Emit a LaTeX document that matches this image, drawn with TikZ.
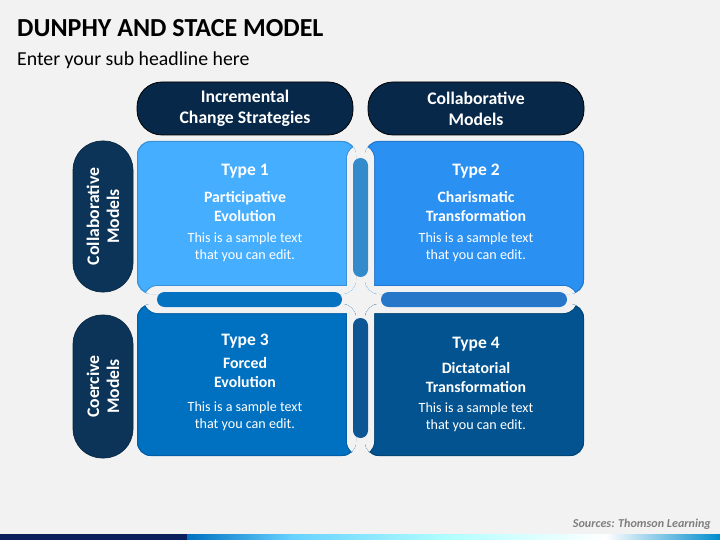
\documentclass[tikz,border=0pt]{standalone}
\usepackage{fontspec}
\setmainfont{Carlito}
\definecolor{bgc}{HTML}{F2F2F2}
\definecolor{navyH}{HTML}{072848}
\definecolor{navyS}{HTML}{0B3458}
\definecolor{qA}{HTML}{45AEFF}
\definecolor{qAo}{HTML}{3A90D6}
\definecolor{qB}{HTML}{2A90F2}
\definecolor{qBo}{HTML}{2277CC}
\definecolor{qC}{HTML}{0070C0}
\definecolor{qCo}{HTML}{005EA6}
\definecolor{qD}{HTML}{02538F}
\definecolor{qDo}{HTML}{014577}
\definecolor{barA}{HTML}{338BCB}
\definecolor{barB}{HTML}{0471C1}
\definecolor{barC}{HTML}{2677C9}
\definecolor{barD}{HTML}{0D5695}
\definecolor{stripN}{HTML}{0A1F5C}
\definecolor{srcgray}{HTML}{7F7F7F}
\newcommand{\halopaths}{(144,286) rectangle (577,313) (347,145) rectangle (374,455)}
\newcommand{\quadshape}[6]{%
  \begin{scope}
    \clip[rounded corners=14pt] (#1,#2) rectangle (#3,#4);
    \fill[#5] (#1,#2) rectangle (#3,#4);
    \draw[#6, line width=2pt, rounded corners=14pt] (#1,#2) rectangle (#3,#4);
    \draw[#6, line width=2pt, rounded corners=13.5pt] \halopaths;
    \fill[bgc, rounded corners=13.5pt] \halopaths;
  \end{scope}}
\begin{document}
\begin{tikzpicture}[x=1pt,y=-1pt,
  hdr/.style={fill=navyH, draw=black, line width=0.8pt, rounded corners=25pt,
    text=white, inner sep=0pt, align=center,
    font=\bfseries\fontsize{17.7}{21}\selectfont},
  side/.style={fill=navyS, draw=navyS!70!black, line width=0.6pt, rounded corners=29pt,
    text=white, inner sep=0pt, align=center, rotate=90, minimum height=60pt,
    font=\bfseries\fontsize{17.7}{20}\selectfont},
  qtitle/.style={text=white, font=\bfseries\fontsize{17.5}{20}\selectfont},
  qsub/.style={text=white, align=center, font=\bfseries\fontsize{15.8}{19}\selectfont},
  qbody/.style={text=white, align=center, font=\fontsize{14.1}{17}\selectfont},
  bar/.style={rounded corners=7.5pt}]
\useasboundingbox (0,0) rectangle (720,540);
\fill[bgc] (0,0) rectangle (720,540);

% title
\node[anchor=base west, inner sep=0pt, font=\bfseries\fontsize{26}{30}\selectfont] (title) at (17,37) {DUNPHY AND STACE MODEL};
\node[anchor=base west, inner sep=0pt, font=\fontsize{19.8}{22}\selectfont] (subtitle) at (17,66) {Enter your sub headline here};

% headers
\node[hdr, minimum width=216pt, minimum height=53pt] (h1) at (245,108.5) {Incremental\\Change Strategies};
\node[hdr, minimum width=216pt, minimum height=53pt] (h2) at (476,108.5) {Collaborative\\Models};

% side labels
\node[side, minimum width=151pt] (s1) at (103,216.5) {Collaborative\\Models};
\node[side, minimum width=143pt] (s2) at (103,386.5) {Coercive\\Models};

% quadrants
\quadshape{137}{141}{356}{294}{qA}{qAo}
\quadshape{365}{141}{584}{294}{qB}{qBo}
\quadshape{137}{304}{356}{456}{qC}{qCo}
\quadshape{365}{304}{584}{456}{qD}{qDo}

% bars
\fill[barA, bar] (353,158) rectangle (368,277);
\fill[barD, bar] (353,318) rectangle (368,438);
\fill[barB, bar] (157,292) rectangle (342,307);
\fill[barC, bar] (381,292) rectangle (567,307);

% quadrant texts
\node[qtitle] (t1) at (245,171) {Type 1};
\node[qsub] (p1) at (245,206.5) {Participative\\Evolution};
\node[qbody] (b1) at (245,247.5) {This is a sample text\\that you can edit.};

\node[qtitle] (t2) at (476,171) {Type 2};
\node[qsub] (p2) at (476,206.5) {Charismatic\\Transformation};
\node[qbody] (b2) at (476,247.5) {This is a sample text\\that you can edit.};

\node[qtitle] (t3) at (245,341) {Type 3};
\node[qsub] (p3) at (245,372.5) {Forced\\Evolution};
\node[qbody] (b3) at (245,416.5) {This is a sample text\\that you can edit.};

\node[qtitle] (t4) at (476,344) {Type 4};
\node[qsub] (p4) at (476,377.5) {Dictatorial\\Transformation};
\node[qbody] (b4) at (476,417.5) {This is a sample text\\that you can edit.};

% source
\node[anchor=base east, inner sep=0pt, text=srcgray, font=\bfseries\itshape\fontsize{12.1}{14}\selectfont] (src) at (711,527) {Sources: Thomson Learning};

% bottom strip
\fill[stripN] (0,534) rectangle (188,540);
\shade[left color=qC, right color=cyan!70!blue!60!white] (187,534) rectangle (291,540);
\shade[left color=cyan!70!blue!60!white, right color=cyan!30] (290,534) rectangle (451,540);
\shade[left color=cyan!30, right color=white] (450,534) rectangle (606,540);
\shade[left color=white, right color=qC!80!cyan] (605,534) rectangle (720,540);
\end{tikzpicture}
\end{document}
